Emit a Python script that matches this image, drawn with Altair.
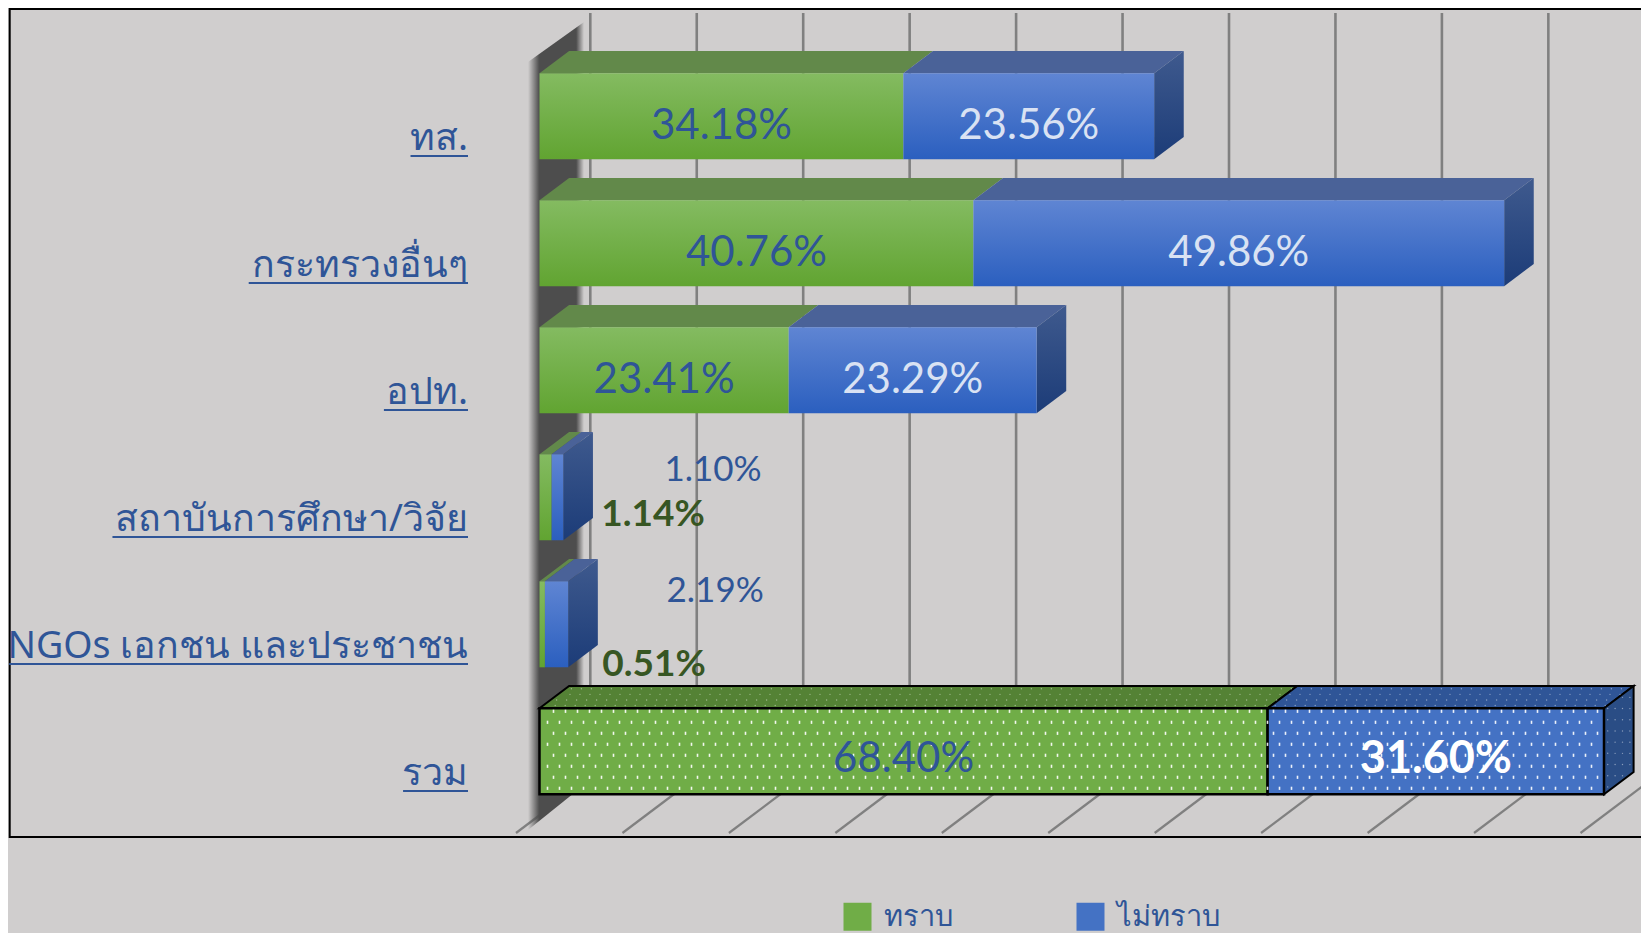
import altair as alt
import pandas as pd

# ---------- data ----------
categories = ["ทส.", "กระทรวงอื่นๆ", "อปท.", "สถาบันการศึกษา/วิจัย", "NGOs เอกชน และประชาชน", "รวม"]
know = [34.18, 40.76, 23.41, 1.14, 0.51, 68.40]
dont_know = [23.56, 49.86, 23.29, 1.10, 2.19, 31.60]
series_names = ["ทราบ", "ไม่ทราบ"]
grid_ticks = [0, 10, 20, 30, 40, 50, 60, 70, 80, 90, 100]
label_widths = [5.4, 20.6, 7.9, 33.4, 43.1, 6.1]  # underline lengths, axis units

# ---------- geometry in axis units (x: percent, y: row) ----------
PX = 10.645          # pixels per percent
W, H = 1633, 925
M = 8                # page margin
BAR_H = 86 / 127
DX, DY = 29.6 / PX, 22.3 / 127
x_scale = alt.Scale(domain=[(M - 539.5) / PX, (M + W - 539.5) / PX], range=[0, W], nice=False, zero=False)
y_scale = alt.Scale(domain=[(M - 73.3) / 127, (M + H - 73.3) / 127], range=[0, H], nice=False, zero=False)
LABEL_RIGHT = (468 - 539.5) / PX


def X(f="x"):
    return alt.X(f"{f}:Q", scale=x_scale, axis=None)


def Y(f="y"):
    return alt.Y(f"{f}:Q", scale=y_scale, axis=None, stack=None)


def grad(c0, c1, horizontal=False):
    return alt.Gradient(
        gradient="linear",
        stops=[alt.GradientStop(offset=0, color=c0), alt.GradientStop(offset=1, color=c1)],
        x1=0, y1=0, x2=1 if horizontal else 0, y2=0 if horizontal else 1,
    )


def top_face(key, x0, x1, r):
    yb, yt = r, r - DY
    pts = sorted({x0, min(x1, x0 + DX), max(x1, x0 + DX), x1 + DX})
    out = []
    for p in pts:
        upper = yb + (yt - yb) * min(1, (p - x0) / DX)
        lower = yb if p <= x1 else yb + (yt - yb) * (p - x1) / DX
        out.append(dict(key=key, x=p, y=upper, y2=lower))
    return out


def side_face(key, x1, r):
    return [
        dict(key=key, x=x1, y=r, y2=r + BAR_H),
        dict(key=key, x=x1 + DX, y=r - DY, y2=r + BAR_H - DY),
    ]


def area_layer(rows, fill, **kw):
    return alt.Chart(pd.DataFrame(rows)).mark_area(orient="vertical", fill=fill, **kw).encode(
        x=X(), y=Y(), y2=alt.Y2("y2:Q"), detail="key:N"
    )


def rect_layer(rows, fill, **kw):
    return alt.Chart(pd.DataFrame(rows)).mark_rect(fill=fill, **kw).encode(
        x=X(), x2=alt.X2("x2:Q"), y=Y(), y2=alt.Y2("y2:Q")
    )


n = len(categories)
TOTAL = n - 1
layers = []

# frame
layers.append(
    alt.Chart(pd.DataFrame([dict(x=(9.7 - 539.5) / PX, x2=(W + 60 - 539.5) / PX, y=(9 - 73.3) / 127, y2=(837 - 73.3) / 127)]))
    .mark_rect(fill="transparent", stroke="#000000", strokeWidth=2)
    .encode(x=X(), x2=alt.X2("x2:Q"), y=Y(), y2=alt.Y2("y2:Q"))
)

# back wall + floor grid lines
WALL_DX = (590.3 - 539.5) / PX
FRONT_DX = (516 - 539.5) / PX
WALL_TOP, WALL_BOT = (13 - 73.3) / 127, (777 - 73.3) / 127
FLOOR_FRONT = (833 - 73.3) / 127
wall = pd.DataFrame([dict(t=t, x=t + WALL_DX, x2=t + WALL_DX, y=WALL_TOP, y2=WALL_BOT,
                          fx=t + FRONT_DX, fy=FLOOR_FRONT) for t in grid_ticks])
layers.append(alt.Chart(wall).mark_rule(color="#808080", strokeWidth=2.6).encode(x=X(), y=Y(), y2=alt.Y2("y2:Q")))
layers.append(alt.Chart(wall).mark_rule(color="#808080", strokeWidth=2.2).encode(x=X(), x2=alt.X2("fx:Q"), y=Y("y2"), y2=alt.Y2("fy:Q")))

# dark left wall
wall_stops = [("#4d4d4d00", 0), ("#4d4d4d", 0.2), ("#4d4d4d", 0.86), ("#4d4d4d00", 1)]
wall_fill = alt.Gradient(gradient="linear",
                         stops=[alt.GradientStop(offset=o, color=c) for c, o in wall_stops],
                         x1=0, y1=0, x2=1, y2=0)
layers.append(area_layer([
    dict(key="w", x=(528 - 539.5) / PX, y=(62 - 73.3) / 127, y2=(830 - 73.3) / 127),
    dict(key="w", x=(584 - 539.5) / PX, y=(22 - 73.3) / 127, y2=(785 - 73.3) / 127),
], wall_fill))

# faces of the ordinary rows
rows_g, rows_b, tops_g, tops_b, sides = [], [], [], [], []
for r in range(n - 1):
    a, b = know[r], dont_know[r]
    rows_g.append(dict(x=0, x2=a, y=r, y2=r + BAR_H))
    rows_b.append(dict(x=a, x2=a + b, y=r, y2=r + BAR_H))
    tops_g += top_face(f"g{r}", 0, a, r)
    tops_b += top_face(f"b{r}", a, a + b, r)
    sides += side_face(f"s{r}", a + b, r)

layers.append(area_layer(tops_g, "#62894a"))
layers.append(area_layer(tops_b, "#4a6298"))
layers.append(area_layer(sides, grad("#3f5a8e", "#1c3c78")))
layers.append(rect_layer(rows_g, grad("#84bb61", "#61a431")))
layers.append(rect_layer(rows_b, grad("#5f85d3", "#2b5fbf")))

# total row
r = TOTAL
a, b = know[r], dont_know[r]
layers.append(area_layer(top_face("tg", 0, a, r), "#548235", stroke="#000000", strokeWidth=2))
layers.append(area_layer(top_face("tb", a, a + b, r), "#2f5597", stroke="#000000", strokeWidth=2))
layers.append(area_layer(side_face("ts", a + b, r), "#2a4d85", stroke="#000000", strokeWidth=2))
total_df = pd.DataFrame([
    dict(series=series_names[0], x=0, x2=a, y=r, y2=r + BAR_H),
    dict(series=series_names[1], x=a, x2=a + b, y=r, y2=r + BAR_H),
])
layers.append(
    alt.Chart(total_df).mark_rect(stroke="#000000", strokeWidth=2.5).encode(
        x=X(), x2=alt.X2("x2:Q"), y=Y(), y2=alt.Y2("y2:Q"),
        color=alt.Color("series:N",
                        scale=alt.Scale(domain=series_names, range=["#70ad47", "#4472c4"]),
                        legend=alt.Legend(orient="none", legendX=835, legendY=894, direction="horizontal",
                                          title=None, symbolType="square", symbolSize=784, symbolStrokeWidth=0,
                                          labelFont="Noto Sans", labelFontSize=29, labelColor="#2f5597",
                                          labelLimit=300, labelOffset=12, columns=2, columnPadding=123,
                                          padding=0)),
    )
)

# dotted pattern on the total row
dot_front, dot_top, dot_side = [], [], []
end = a + b
for i in range(8):
    yy = r + (3 + i * 11) / 127
    if yy > r + BAR_H:
        continue
    off = 0 if i % 2 == 0 else -6
    xp = 8 + off + 6
    while xp < 1064:
        dot_front.append(dict(x=xp / PX, y=yy))
        xp += 12
for i in range(4):
    t = (i + 0.5) / 4
    off = 0 if i % 2 == 0 else -6
    xp = 6 + off + 6
    while xp < 1064:
        dot_top.append(dict(x=xp / PX + t * DX, y=r - t * DY))
        xp += 10
for i in range(15):
    yy = r + (3 + i * 5.6) / 127
    for j in range(4):
        t = (j + 0.5) / 4
        if (i + j) % 2 == 0:
            dot_side.append(dict(x=end + t * DX, y=yy - t * DY))

dot_shape = "M-0.8,-1.6L0.8,-1.6L0.8,1.6L-0.8,1.6Z"
layers.append(alt.Chart(pd.DataFrame(dot_front)).mark_point(shape=dot_shape, filled=True, fill="#ffffff", stroke=None,
                                                             size=4, opacity=0.9).encode(x=X(), y=Y()))
layers.append(alt.Chart(pd.DataFrame(dot_top)).mark_point(shape="circle", filled=True, fill="#ffffff", stroke=None,
                                                           size=2, opacity=0.45).encode(x=X(), y=Y()))
layers.append(alt.Chart(pd.DataFrame(dot_side)).mark_point(shape="circle", filled=True, fill="#ffffff", stroke=None,
                                                            size=2, opacity=0.45).encode(x=X(), y=Y()))

# category labels with underlines
cat_df = pd.DataFrame([
    dict(label=c, x=LABEL_RIGHT, x2=LABEL_RIGHT - w, y=i + 77 / 127, yu=i + 82.7 / 127)
    for i, (c, w) in enumerate(zip(categories, label_widths))
])
layers.append(alt.Chart(cat_df).mark_text(align="right", baseline="alphabetic", font="Noto Sans", fontSize=37.5, color="#2f5597")
              .encode(x=X(), y=Y(), text="label:N"))
layers.append(alt.Chart(cat_df).mark_rule(color="#2f5597", strokeWidth=2).encode(x=X(), x2=alt.X2("x2:Q"), y=Y("yu")))


# value labels
def val_text(rows, color, size, weight="normal"):
    return alt.Chart(pd.DataFrame(rows)).mark_text(align="center", baseline="middle", font="Lato", fontSize=size,
                                                   color=color, fontWeight=weight).encode(x=X(), y=Y(), text="t:N")


def pct(v):
    return f"{v:.2f}%"


on_green = [dict(t=pct(know[i]), x=know[i] / 2, y=i + 0.412) for i in (0, 1, 2)]
on_blue = [dict(t=pct(dont_know[i]), x=know[i] + dont_know[i] / 2, y=i + 0.412) for i in (0, 1, 2)]
layers.append(val_text(on_green + [dict(t=pct(know[5]), x=know[5] / 2, y=5 + 0.4)], "#2f5597", 42))
layers.append(val_text(on_blue, "#d9e2f3", 42))
layers.append(val_text([dict(t=pct(dont_know[5]), x=know[5] + dont_know[5] / 2, y=5 + 0.4)], "#ffffff", 45, "bold"))
layers.append(val_text([dict(t=pct(dont_know[3]), x=16.3, y=3 + 0.123),
                        dict(t=pct(dont_know[4]), x=16.5, y=4 + 0.073)], "#2f5597", 35))
layers.append(val_text([dict(t=pct(know[3]), x=10.66, y=3 + 0.48),
                        dict(t=pct(know[4]), x=10.76, y=4 + 0.661)], "#375623", 37, "bold"))

chart = (
    alt.layer(*layers)
    .properties(width=W, height=H, padding=0, autosize=alt.AutoSizeParams(type="none"), background="#d0cece")
    .configure_view(stroke=None)
)

chart.save("out.html", embed_options={"renderer": "svg", "actions": False})
